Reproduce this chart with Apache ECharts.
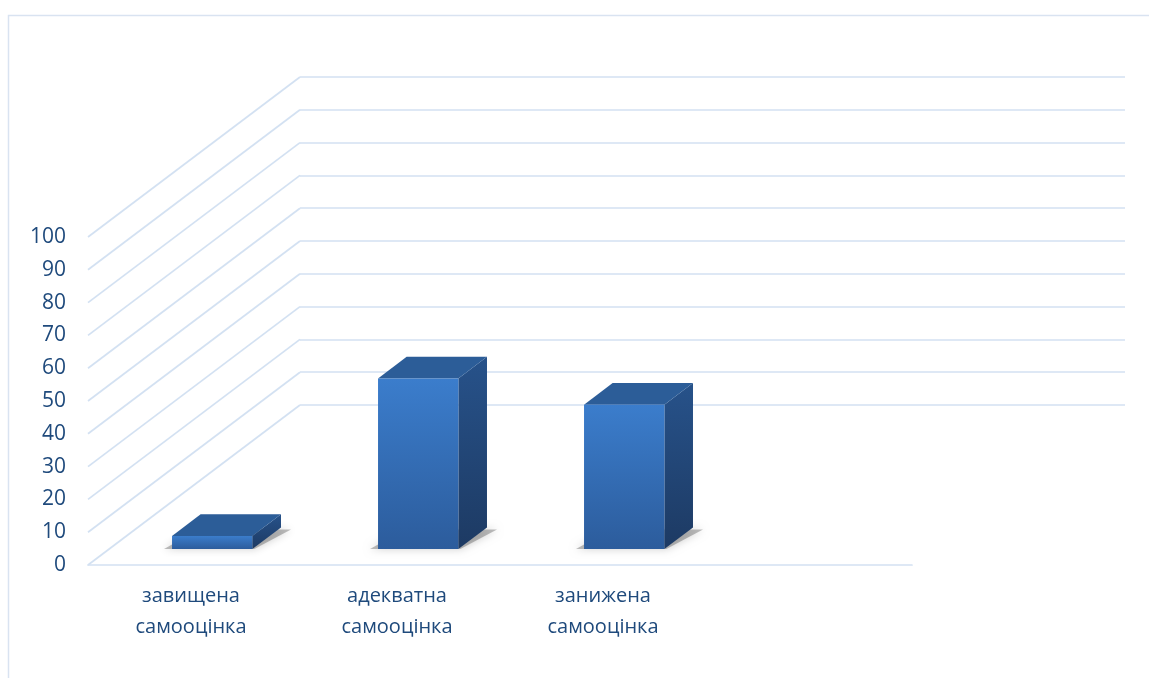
<!DOCTYPE html>
<html>
<head>
<meta charset="utf-8">
<script src="https://cdn.jsdelivr.net/npm/echarts@6/dist/echarts.min.js"></script>
<style>
html,body{margin:0;padding:0;background:#ffffff;}
#c{width:1149px;height:678px;}
</style>
</head>
<body>
<div id="c"></div>
<script>
// ---- data ----
const categories = ['завищена\nсамооцінка', 'адекватна\nсамооцінка', 'занижена\nсамооцінка', ''];
const values = [4, 52, 44];
const yTicks = [0, 10, 20, 30, 40, 50, 60, 70, 80, 90, 100];

// ---- style / layout ----
const FONT = 'Open Sans';
const TEXT_COLOR = '#1f4a7c';
const GRID_COLOR = '#d3e1f2';
const GRID_LEFT = 88, GRID_TOP = 237, GRID_W = 824, GRID_H = 328;
const DEPTH = [212, -160];        // floor depth offset (front -> back wall)
const BAR_Z0 = 0.1, BAR_DZ = 0.135, BAR_FRAC = 0.39;

const chart = echarts.init(document.getElementById('c'), null, {renderer: 'canvas'});

function renderDiag(params, api) {
  const p = api.coord([0, api.value(1)]);
  const x = params.coordSys.x;
  return {
    type: 'line',
    silent: true,
    shape: {x1: x, y1: p[1], x2: x + DEPTH[0], y2: p[1] + DEPTH[1]},
    style: {stroke: GRID_COLOR, lineWidth: 1.7}
  };
}

function renderBar(params, api) {
  const idx = api.value(0), v = api.value(1);
  const top = api.coord([idx, v]);
  const base = api.coord([idx, 0]);
  const bw = api.size([1, 0])[0];
  const w = bw * BAR_FRAC;
  const ox = DEPTH[0] * BAR_Z0, oy = DEPTH[1] * BAR_Z0;
  const dx = DEPTH[0] * BAR_DZ, dy = DEPTH[1] * BAR_DZ;
  const x0 = top[0] - w / 2 + ox, x1 = x0 + w;
  const yT = top[1] + oy, yB = base[1] + oy;
  return {
    type: 'group',
    children: [
      { // floor shadow
        type: 'polygon',
        shape: {points: [[x0 - 8, yB], [x1 + 2, yB], [x1 + dx + 10, yB + dy + 2], [x0 + dx - 2, yB + dy + 2]]},
        style: {fill: 'rgba(70,70,70,0.35)', shadowBlur: 9, shadowColor: 'rgba(0,0,0,0.55)'}
      },
      { // side face
        type: 'polygon',
        shape: {points: [[x1, yT], [x1 + dx, yT + dy], [x1 + dx, yB + dy], [x1, yB]]},
        style: {fill: new echarts.graphic.LinearGradient(0, 0, 0, 1, [
          {offset: 0, color: '#27528a'}, {offset: 1, color: '#1d3a63'}])}
      },
      { // top face
        type: 'polygon',
        shape: {points: [[x0, yT], [x1, yT], [x1 + dx, yT + dy], [x0 + dx, yT + dy]]},
        style: {fill: '#2c5d98'}
      },
      { // front face
        type: 'rect',
        shape: {x: x0, y: yT, width: w, height: yB - yT},
        style: {fill: new echarts.graphic.LinearGradient(0, 0, 0, 1, [
          {offset: 0, color: '#3b7dcc'}, {offset: 1, color: '#2c5c9c'}])}
      }
    ]
  };
}

const option = {
  backgroundColor: '#ffffff',
  animation: false,
  textStyle: {fontFamily: FONT},
  graphic: [{
    type: 'rect', silent: true, z: -1,
    shape: {x: 8.5, y: 15.5, width: 1300, height: 800},
    style: {fill: 'none', stroke: '#d9e3f1', lineWidth: 1.5}
  }],
  grid: [
    {left: GRID_LEFT, top: GRID_TOP, width: GRID_W, height: GRID_H},
    {left: GRID_LEFT + DEPTH[0], top: GRID_TOP + DEPTH[1], width: GRID_W + 1, height: GRID_H}
  ],
  xAxis: [
    {
      type: 'category', gridIndex: 0, data: categories,
      axisLine: {lineStyle: {color: GRID_COLOR, width: 1.7}},
      axisTick: {show: false},
      axisLabel: {color: TEXT_COLOR, fontSize: 20, lineHeight: 31, margin: 16, fontFamily: FONT, interval: 0}
    },
    {type: 'value', gridIndex: 1, show: false, min: 0, max: 1}
  ],
  yAxis: [
    {
      type: 'value', gridIndex: 0, min: 0, max: 100, interval: 10,
      axisLine: {show: false}, axisTick: {show: false}, splitLine: {show: false},
      axisLabel: {color: TEXT_COLOR, fontSize: 21, margin: 22, fontFamily: FONT}
    },
    {
      type: 'value', gridIndex: 1, min: 0, max: 100, interval: 10,
      axisLine: {show: false}, axisTick: {show: false}, axisLabel: {show: false},
      splitLine: {show: true, lineStyle: {color: GRID_COLOR, width: 1.7}}
    }
  ],
  series: [
    {
      type: 'custom', xAxisIndex: 0, yAxisIndex: 0, z: 1, silent: true,
      renderItem: renderDiag,
      data: yTicks.map(function (t) { return [0, t]; })
    },
    {
      type: 'custom', xAxisIndex: 0, yAxisIndex: 0, z: 5,
      renderItem: renderBar,
      data: values.map(function (v, i) { return [i, v]; })
    }
  ]
};
chart.setOption(option);
</script>
</body>
</html>
